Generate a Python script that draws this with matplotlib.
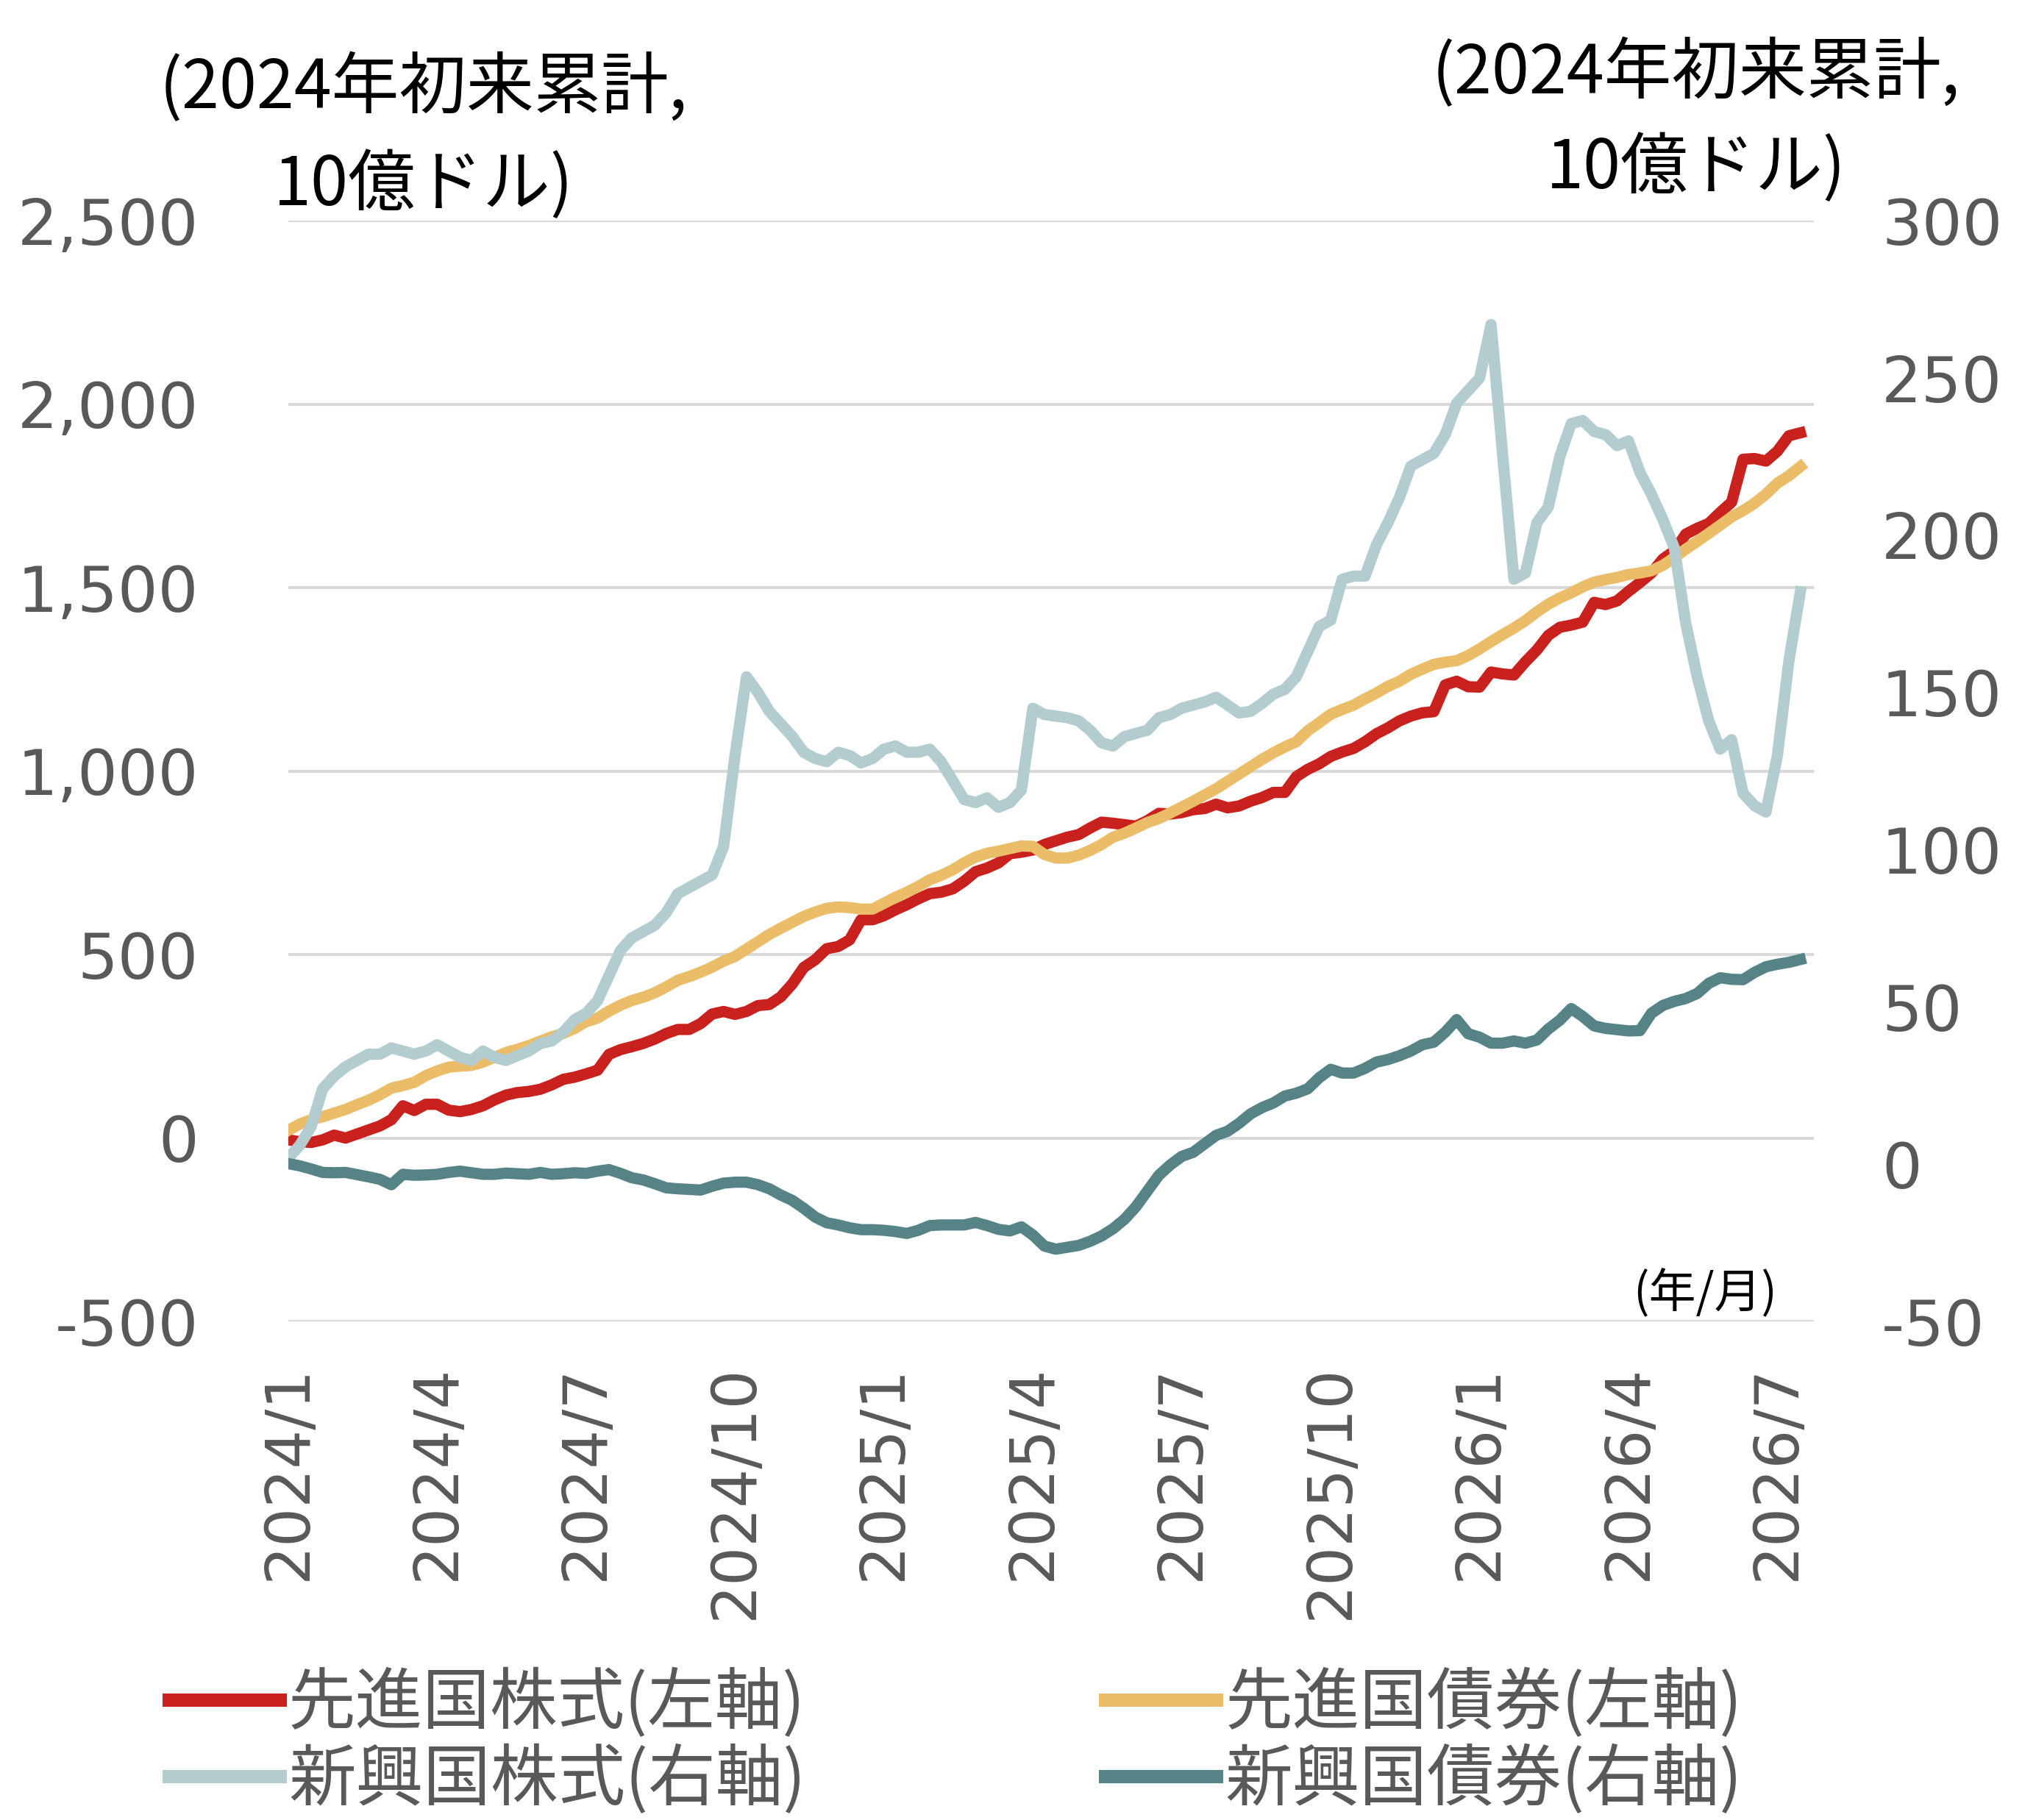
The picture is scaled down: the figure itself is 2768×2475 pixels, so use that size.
import matplotlib
matplotlib.use("Agg")
import matplotlib.pyplot as plt

# 週次データ（2024/1〜2026/7）
tick_labels = ["2024/1", "2024/4", "2024/7", "2024/10", "2025/1", "2025/4",
               "2025/7", "2025/10", "2026/1", "2026/4", "2026/7"]

# 先進国株式（左軸, 10億ドル）
dm_equity = [-5, -10, -12, -5, 8, 0, 11, 22, 33, 50,
             88, 75, 92, 92, 76, 72, 78, 88, 104, 117,
             124, 127, 133, 145, 160, 166, 175, 185, 228, 241,
             249, 258, 270, 285, 296, 296, 312, 338, 345, 337,
             345, 361, 364, 385, 420, 465, 486, 516, 522, 540,
             595, 595, 606, 622, 636, 652, 666, 670, 679, 700,
             726, 736, 750, 775, 779, 785, 800, 810, 820, 827,
             845, 861, 858, 854, 850, 865, 885, 883, 887, 895,
             898, 910, 900, 905, 918, 928, 942, 942, 985, 1005,
             1020, 1040, 1052, 1062, 1080, 1102, 1118, 1137, 1150, 1159,
             1162, 1235, 1245, 1230, 1229, 1270, 1265, 1262, 1298, 1330,
             1370, 1392, 1398, 1406, 1460, 1454, 1464, 1490, 1514, 1540,
             1578, 1600, 1646, 1662, 1675, 1705, 1733, 1850, 1852, 1845,
             1872, 1914, 1922]

# 先進国債券（左軸）
dm_bond = [21, 38, 50, 58, 68, 78, 91, 103, 118, 136,
           143, 152, 170, 183, 193, 196, 198, 207, 220, 233,
           242, 252, 264, 276, 285, 299, 317, 327, 346, 362,
           375, 384, 396, 412, 430, 440, 452, 466, 482, 495,
           515, 535, 555, 572, 588, 604, 616, 626, 630, 628,
           624, 624, 640, 656, 670, 686, 704, 716, 731, 750,
           766, 776, 782, 789, 796, 795, 773, 763, 763, 771,
           784, 800, 820, 831, 845, 860, 871, 886, 902, 918,
           935, 952, 972, 992, 1012, 1032, 1050, 1066, 1080, 1110,
           1132, 1155, 1168, 1180, 1197, 1213, 1231, 1245, 1264, 1278,
           1291, 1297, 1301, 1315, 1333, 1353, 1372, 1390, 1410, 1434,
           1455, 1472, 1486, 1502, 1515, 1522, 1528, 1536, 1540, 1546,
           1561, 1582, 1605, 1626, 1648, 1670, 1693, 1710, 1730, 1755,
           1785, 1805, 1830]

# 新興国株式（右軸）
em_equity = [2, 6, 12, 24, 28, 31, 33, 35, 35, 37,
             36, 35, 36, 38, 36, 34, 33, 36, 34, 33,
             34.5, 36, 38.4, 39.2, 42, 46, 48, 52, 60, 68,
             72, 74, 76, 80, 86, 88, 90, 92, 101, 130,
             155, 150, 144, 140, 136, 131, 129, 128, 131, 130,
             127.6, 129, 132, 133, 131, 131, 132, 128, 122, 116,
             115, 116.5, 113.5, 115, 119, 145, 143, 142.5, 142, 141,
             138, 134, 133, 136, 137, 138, 142, 143, 145, 146,
             147, 148.5, 146, 143.5, 144, 146.5, 149.5, 151, 155, 163,
             171, 173, 186, 187, 187, 197, 204, 212, 222, 224,
             226, 232, 242, 246, 250, 267, 226, 186, 188, 204,
             209, 225, 235.5, 236.5, 233, 232, 228.5, 230, 220, 213,
             205, 196, 172, 155, 141, 132, 135, 118, 114, 112,
             130, 160, 182]

# 新興国債券（右軸）
em_bond = [0.2, -0.5, -1.5, -2.6, -2.7, -2.6, -3.3, -4.0, -4.8, -6.5,
           -3.2, -3.5, -3.4, -3.2, -2.6, -2.2, -2.7, -3.2, -3.2, -2.8,
           -3.0, -3.2, -2.6, -3.2, -3.0, -2.7, -2.9, -2.2, -1.7, -2.9,
           -4.3, -5.0, -6.2, -7.5, -7.8, -8.0, -8.2, -7.0, -6.0, -5.7,
           -5.7, -6.5, -7.8, -9.8, -11.5, -14.0, -16.8, -18.6, -19.3, -20.2,
           -20.8, -20.8, -21.0, -21.4, -22.0, -21.0, -19.5, -19.3, -19.3, -19.3,
           -18.5, -19.5, -20.7, -21.2, -19.9, -22.5, -26.0, -27.0, -26.4, -25.8,
           -24.5, -22.8, -20.5, -17.5, -13.5, -8.5, -3.5, -0.2, 2.5, 3.8,
           6.5, 9.2, 10.5, 13.0, 16.0, 18.0, 19.5, 21.7, 22.6, 24.0,
           27.5, 30.2, 29.0, 29.0, 30.5, 32.5, 33.3, 34.5, 36.0, 38.0,
           38.8, 42.0, 46.0, 41.5, 40.4, 38.5, 38.5, 39.2, 38.5, 39.5,
           43.0, 45.8, 49.5, 47.0, 44.0, 43.2, 42.8, 42.4, 42.5, 48.0,
           50.5, 51.8, 52.7, 54.3, 57.5, 59.3, 58.8, 58.7, 61.0, 62.8,
           63.6, 64.2, 65.1]

weeks = list(range(len(dm_equity)))
tick_pos = [13 * i for i in range(len(tick_labels))]

left_ticks = [-500, 0, 500, 1000, 1500, 2000, 2500]
left_tick_labels = ["-500", "0", "500", "1,000", "1,500", "2,000", "2,500"]
right_ticks = [-50, 0, 50, 100, 150, 200, 250, 300]

c_red = "#C9211E"
c_yellow = "#EBBD68"
c_lblue = "#B3CCD0"
c_teal = "#568386"
c_grid = "#D9D9D9"
c_text = "#595959"

plt.rcParams['font.family'] = ['Noto Sans CJK JP', 'DejaVu Sans']

fig = plt.figure(figsize=(27.68, 24.75), dpi=100)
ax = fig.add_axes([0.1416, 0.2739, 0.7494, 0.6048])
ax2 = ax.twinx()

lw = 11
l1, = ax.plot(weeks, dm_equity, color=c_red, lw=lw, solid_joinstyle='round')
l2, = ax.plot(weeks, dm_bond, color=c_yellow, lw=lw, solid_joinstyle='round')
l3, = ax2.plot(weeks, em_equity, color=c_lblue, lw=lw, solid_joinstyle='round')
l4, = ax2.plot(weeks, em_bond, color=c_teal, lw=lw, solid_joinstyle='round')

ax.set_xlim(0, 133.2)
ax.set_ylim(-500, 2500)
ax2.set_ylim(-50, 300)

ax.set_yticks(left_ticks)
ax.set_yticklabels(left_tick_labels, family='DejaVu Sans')
ax2.set_yticks(right_ticks)
ax2.set_yticklabels([str(v) for v in right_ticks], family='DejaVu Sans')
ax.set_xticks(tick_pos)
ax.set_xticklabels(tick_labels, rotation=90, family='DejaVu Sans')

ax.tick_params(axis='y', length=0, pad=88, labelsize=62, colors=c_text)
ax2.tick_params(axis='y', length=0, pad=66, labelsize=62, colors=c_text)
ax.tick_params(axis='x', length=0, pad=42, labelsize=60, colors=c_text)

ax.grid(axis='y', color=c_grid, lw=3)
ax.grid(axis='x', visible=False)
ax.set_axisbelow(True)
for a in (ax, ax2):
    for s in a.spines.values():
        s.set_visible(False)

# 単位ラベル
fig.text(0.208, 1 - 68 / 1402, "(2024年初来累計,", ha='center', va='center', fontsize=66, color='black')
fig.text(0.208, 1 - 143 / 1402, "10億ドル)", ha='center', va='center', fontsize=66, color='black')
fig.text(0.833, 1 - 57 / 1402, "(2024年初来累計,", ha='center', va='center', fontsize=66, color='black')
fig.text(0.833, 1 - 130 / 1402, "10億ドル)", ha='center', va='center', fontsize=66, color='black')
fig.text(1313 / 1568, 1 - 997 / 1402, "(年/月)", ha='center', va='center', fontsize=46, color='black')

leg = fig.legend([l1, l3, l2, l4],
                 ["先進国株式(左軸)", "新興国株式(右軸)", "先進国債券(左軸)", "新興国債券(右軸)"],
                 loc='upper left', bbox_to_anchor=(0.083, 0.083), ncol=2, frameon=False,
                 fontsize=66, handlelength=1.65, handletextpad=0.12, columnspacing=4.45,
                 labelspacing=0.1, borderpad=0, borderaxespad=0, labelcolor=c_text)
for h in leg.get_lines():
    h.set_linewidth(13)

fig.savefig("out.png", dpi=100)
